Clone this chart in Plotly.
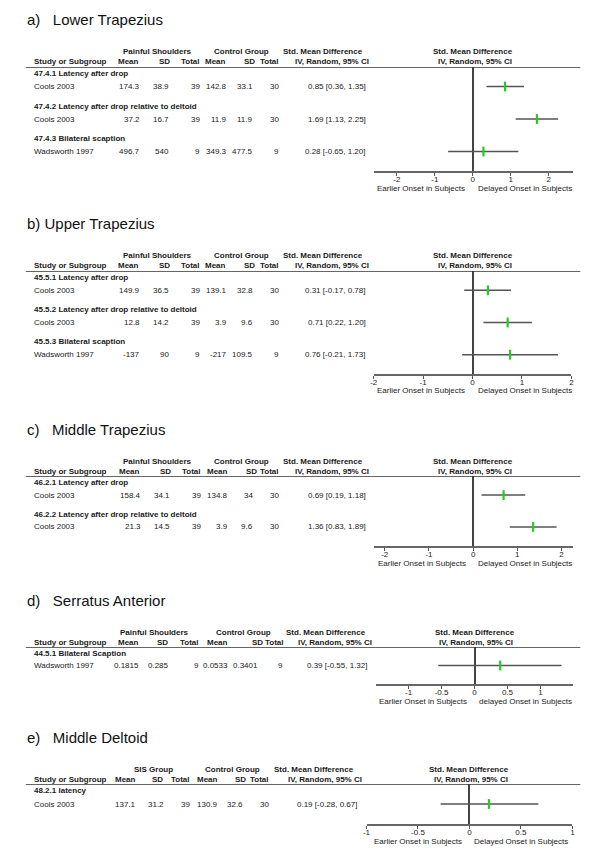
import plotly.graph_objects as go

W, H = 600, 856
OFFX, OFFY = 8, 8  # page body margin compensation

# ---------------- data ----------------
titles = ["a)\u00a0\u00a0\u00a0Lower Trapezius", "b)\u00a0Upper Trapezius",
          "c)\u00a0\u00a0\u00a0Middle Trapezius", "d)\u00a0\u00a0\u00a0Serratus Anterior",
          "e)\u00a0\u00a0\u00a0Middle Deltoid"]
exp_group_names = ["Painful Shoulders", "Painful Shoulders", "Painful Shoulders",
                   "Painful Shoulders", "SIS Group"]
ctrl_group_name = "Control Group"
effect_header = ["Std. Mean Difference", "IV, Random, 95% CI"]
col_headers = ["Mean", "SD", "Total", "Mean", "SD", "Total"]
study_header = "Study or Subgroup"

a_subgroups = ["47.4.1 Latency after drop", "47.4.2 Latency after drop relative to deltoid",
               "47.4.3 Bilateral scaption"]
a_studies = ["Cools 2003", "Cools 2003", "Wadsworth 1997"]
a_exp_mean = [174.3, 37.2, 496.7]
a_exp_sd = [38.9, 16.7, 540]
a_exp_n = [39, 39, 9]
a_ctl_mean = [142.8, 11.9, 349.3]
a_ctl_sd = [33.1, 11.9, 477.5]
a_ctl_n = [30, 30, 9]
a_smd = [0.85, 1.69, 0.28]
a_lo = [0.36, 1.13, -0.65]
a_hi = [1.35, 2.25, 1.20]

b_subgroups = ["45.5.1 Latency after drop", "45.5.2 Latency after drop relative to deltoid",
               "45.5.3 Bilateral scaption"]
b_studies = ["Cools 2003", "Cools 2003", "Wadsworth 1997"]
b_exp_mean = [149.9, 12.8, -137]
b_exp_sd = [36.5, 14.2, 90]
b_exp_n = [39, 39, 9]
b_ctl_mean = [139.1, 3.9, -217]
b_ctl_sd = [32.8, 9.6, 109.5]
b_ctl_n = [30, 30, 9]
b_smd = [0.31, 0.71, 0.76]
b_lo = [-0.17, 0.22, -0.21]
b_hi = [0.78, 1.20, 1.73]

c_subgroups = ["46.2.1 Latency after drop", "46.2.2 Latency after drop relative to deltoid"]
c_studies = ["Cools 2003", "Cools 2003"]
c_exp_mean = [158.4, 21.3]
c_exp_sd = [34.1, 14.5]
c_exp_n = [39, 39]
c_ctl_mean = [134.8, 3.9]
c_ctl_sd = [34, 9.6]
c_ctl_n = [30, 30]
c_smd = [0.69, 1.36]
c_lo = [0.19, 0.83]
c_hi = [1.18, 1.89]

d_subgroups = ["44.5.1 Bilateral Scaption"]
d_studies = ["Wadsworth 1997"]
d_exp_mean = [0.1815]
d_exp_sd = [0.285]
d_exp_n = [9]
d_ctl_mean = [0.0533]
d_ctl_sd = [0.3401]
d_ctl_n = [9]
d_smd = [0.39]
d_lo = [-0.55]
d_hi = [1.32]

e_subgroups = ["48.2.1 latency"]
e_studies = ["Cools 2003"]
e_exp_mean = [137.1]
e_exp_sd = [31.2]
e_exp_n = [39]
e_ctl_mean = [130.9]
e_ctl_sd = [32.6]
e_ctl_n = [30]
e_smd = [0.19]
e_lo = [-0.28]
e_hi = [0.67]

ticks_wide = [-2, -1, 0, 1, 2]
ticks_wide_text = ["-2", "-1", "0", "1", "2"]
ticks_narrow = [-1, -0.5, 0, 0.5, 1]
ticks_narrow_text = ["-1", "-0.5", "0", "0.5", "1"]
left_labels = ["Earlier Onset in Subjects"] * 5
right_labels = ["Delayed Onset in Subjects", "Delayed Onset in Subjects",
                "Delayed Onset in Subjects", "delayed Onset in Subjects",
                "Delayed Onset in Subjects"]

panels_data = [
    (a_subgroups, a_studies, a_exp_mean, a_exp_sd, a_exp_n, a_ctl_mean, a_ctl_sd, a_ctl_n, a_smd, a_lo, a_hi, ticks_wide, ticks_wide_text),
    (b_subgroups, b_studies, b_exp_mean, b_exp_sd, b_exp_n, b_ctl_mean, b_ctl_sd, b_ctl_n, b_smd, b_lo, b_hi, ticks_wide, ticks_wide_text),
    (c_subgroups, c_studies, c_exp_mean, c_exp_sd, c_exp_n, c_ctl_mean, c_ctl_sd, c_ctl_n, c_smd, c_lo, c_hi, ticks_wide, ticks_wide_text),
    (d_subgroups, d_studies, d_exp_mean, d_exp_sd, d_exp_n, d_ctl_mean, d_ctl_sd, d_ctl_n, d_smd, d_lo, d_hi, ticks_narrow, ticks_narrow_text),
    (e_subgroups, e_studies, e_exp_mean, e_exp_sd, e_exp_n, e_ctl_mean, e_ctl_sd, e_ctl_n, e_smd, e_lo, e_hi, ticks_narrow, ticks_narrow_text),
]

# ---------------- layout (pixel geometry of the page) ----------------
geom = [
    dict(line=67, axis=171, xdom=(374, 576), xr=[-2.61, 2.65],
         vals=[139, 168, 199, 227, 253, 279], hdrs=[138, 169, 199, 226, 255, 279],
         grp=(155, 240), eff_hdr=(323, 332), eff_val=367, fhdr=(474, 476)),
    dict(line=271, axis=374, xdom=(374, 574), xr=[-2, 2],
         vals=[139, 168, 199, 227, 253, 279], hdrs=[138, 169, 199, 226, 255, 279],
         grp=(155, 240), eff_hdr=(323, 332), eff_val=367, fhdr=(474, 476)),
    dict(line=476, axis=546, xdom=(374, 576), xr=[-2.25, 2.27],
         vals=[140, 169, 200, 228, 253, 279], hdrs=[139, 170, 200, 228, 257, 279],
         grp=(155, 240), eff_hdr=(323, 332), eff_val=367, fhdr=(474.5, 476)),
    dict(line=647, axis=684, xdom=(376, 576), xr=[-1.5, 1.5],
         vals=[138, 168, 198, 228, 258, 283], hdrs=[138, 167, 198, 228, 263, 284],
         grp=(152, 242), eff_hdr=(326, 335), eff_val=369, fhdr=(476, 477)),
    dict(line=784, axis=824, xdom=(366.7, 575), xr=[-1, 1],
         vals=[134, 163, 189, 217, 243, 269], hdrs=[134, 162, 189, 217, 246, 269],
         grp=(151, 231), eff_hdr=(314, 325), eff_val=359, fhdr=(470.5, 472)),
]

FONT = "Liberation Sans, Arial, Helvetica, sans-serif"
TXT = "#1a1a1a"
FS = 8

fig = go.Figure()
annotations = []
shapes = []
layout_axes = {}


def px(xp):
    return (xp - OFFX) / W


def py(yp):
    return 1 - (yp - OFFY) / H


def ann(text, x, yref, y, xanchor="left", bold=False, size=FS, yshift=0, color=TXT):
    t = f"<b>{text}</b>" if bold else text
    annotations.append(dict(text=t, x=px(x), xref="paper", y=y, yref=yref,
                            xanchor=xanchor, yanchor="middle", yshift=yshift,
                            borderpad=0,
                            showarrow=False, font=dict(family=FONT, size=size, color=color)))


for k, (pdata, g) in enumerate(zip(panels_data, geom), start=1):
    (subs, studies, em, esd, en, cm, csd, cn, smd, lo, hi, tv, tt) = pdata
    n = len(subs)
    sfx = "" if k == 1 else str(k)
    xref, yref = "x" + sfx, "y" + sfx
    head_rows = [1 + 5 * i for i in range(n)]
    study_rows = [3 + 5 * i for i in range(n)]
    bottom = 5 * n + 1

    layout_axes["xaxis" + sfx] = dict(
        domain=[px(g["xdom"][0]), px(g["xdom"][1])], range=g["xr"], anchor=yref,
        showgrid=False, zeroline=True, zerolinecolor="#444", zerolinewidth=1.5,
        showline=True, linecolor="#666", linewidth=2, ticks="outside", ticklen=3,
        tickwidth=1.2, tickcolor="#555", tickvals=tv, ticktext=tt,
        ticklabelstandoff=-4,
        tickfont=dict(family=FONT, size=FS, color=TXT), fixedrange=True)
    layout_axes["yaxis" + sfx] = dict(
        domain=[py(g["axis"]), py(g["line"])], range=[bottom, 0], anchor=xref,
        visible=False, fixedrange=True)

    fig.add_trace(go.Scatter(
        x=smd, y=study_rows, xaxis=xref, yaxis=yref, mode="markers",
        marker=dict(symbol="line-ns", size=7, color="#22cc22",
                    line=dict(color="#22cc22", width=2.2)),
        error_x=dict(type="data", symmetric=False,
                     array=[h - s for h, s in zip(hi, smd)],
                     arrayminus=[s - l for s, l in zip(smd, lo)],
                     width=0, thickness=1.5, color="#555"),
        showlegend=False, cliponaxis=False, hoverinfo="skip"))

    # header line
    shapes.append(dict(type="line", xref="paper", x0=px(22), x1=px(583), yref=yref,
                       y0=0, y1=0, line=dict(color="#333", width=1.5)))

    # title
    ann(titles[k - 1], 22, yref, 0, size=15, yshift=47, color="#111")

    # header row 1
    ann(exp_group_names[k - 1], g["grp"][0], yref, 0, "center", True, yshift=15)
    ann(ctrl_group_name, g["grp"][1], yref, 0, "center", True, yshift=15)
    ann(effect_header[0], g["eff_hdr"][0], yref, 0, "center", True, yshift=15)
    ann(effect_header[0], g["fhdr"][0], yref, 0, "center", True, yshift=15)
    # header row 2
    ann(study_header, 29, yref, 0, "left", True, yshift=5)
    for h, xh in zip(col_headers, g["hdrs"]):
        ann(h, xh, yref, 0, "right", True, yshift=5)
    ann(effect_header[1], g["eff_hdr"][1], yref, 0, "center", True, yshift=5)
    ann(effect_header[1], g["fhdr"][1], yref, 0, "center", True, yshift=5)

    # rows
    for i in range(n):
        ann(subs[i], 29, yref, head_rows[i], "left", True)
        ann(studies[i], 29, yref, study_rows[i], "left")
        cells = [em[i], esd[i], en[i], cm[i], csd[i], cn[i]]
        for v, xv in zip(cells, g["vals"]):
            ann(str(v), xv, yref, study_rows[i], "right")
        ann(f"{smd[i]:.2f} [{lo[i]:.2f}, {hi[i]:.2f}]", g["eff_val"], yref, study_rows[i], "right")

    # axis captions
    x0, x1 = g["xdom"]
    r0, r1 = g["xr"]
    zero_px = x0 + (0 - r0) / (r1 - r0) * (x1 - x0)
    ann(left_labels[k - 1], zero_px - 6.5, yref, bottom, "right", yshift=-17)
    ann(right_labels[k - 1], zero_px + 4, yref, bottom, "left", yshift=-17)

fig.update_layout(
    width=W, height=H, margin=dict(l=0, r=0, t=0, b=0),
    paper_bgcolor="white", plot_bgcolor="white",
    annotations=annotations, shapes=shapes, showlegend=False,
    **layout_axes)

fig.write_html("out.html", config={"displayModeBar": False})
